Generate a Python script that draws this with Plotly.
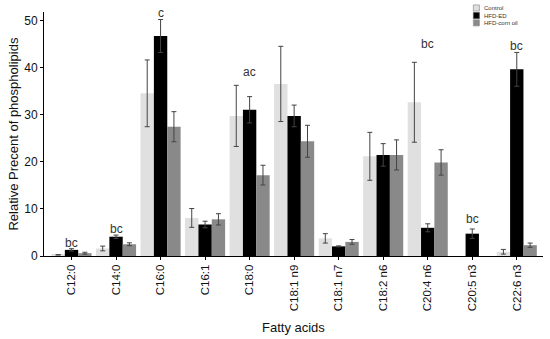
import plotly.graph_objects as go

categories = ["C12:0", "C14:0", "C16:0", "C16:1", "C18:0", "C18:1 n9",
              "C18:1 n7", "C18:2 n6", "C20:4 n6", "C20:5 n3", "C22:6 n3"]

control = [0.25, 1.6, 34.6, 8.1, 29.8, 36.6, 3.75, 21.2, 32.7, None, 0.9]
control_err = [0.05, 0.5, 7.1, 2.0, 6.5, 8.0, 1.0, 5.1, 8.5, None, 0.5]

hfd_ed = [1.3, 4.1, 46.8, 6.7, 31.1, 29.8, 2.05, 21.5, 6.0, 4.75, 39.7]
hfd_ed_err = [0.25, 0.35, 3.5, 0.7, 2.8, 2.3, 0.1, 2.4, 0.85, 1.0, 3.6]

hfd_corn = [0.6, 2.5, 27.5, 7.8, 17.2, 24.4, 3.0, 21.5, 19.9, None, 2.3]
hfd_corn_err = [0.2, 0.3, 3.2, 1.2, 2.1, 3.4, 0.5, 3.2, 2.7, None, 0.45]

sig_labels = ["bc", "bc", "c", "", "ac", "", "", "", "bc", "bc", "bc"]
sig_y = [2.85, 5.8, 51.6, None, 39.1, None, None, None, 45.1, 7.95, 44.6]

series_names = ["Control", "HFD-ED", "HFD-corn oil"]
colors = ["#e0e0e0", "#000000", "#898989"]

FONT = "Liberation Sans, Arial, sans-serif"
TXT = "#111111"

fig = go.Figure()
for name, vals, errs, col in zip(series_names, [control, hfd_ed, hfd_corn],
                                 [control_err, hfd_ed_err, hfd_corn_err], colors):
    fig.add_trace(go.Bar(
        name=name, x=categories, y=vals, marker=dict(color=col, line=dict(width=0)),
        error_y=dict(type="data", array=errs, visible=True, color="#444444",
                     thickness=1, width=2.5),
        showlegend=False,
    ))

for cat, lab, yy in zip(categories, sig_labels, sig_y):
    if lab:
        fig.add_annotation(x=cat, y=yy, text=lab, showarrow=False, xref="x", yref="y",
                           font=dict(family=FONT, size=12, color="#333333"),
                           yanchor="middle")

# manual compact legend (plot area: x 44..543 px, y 12..256 px)
leg_x0, leg_x1 = 0.8605, 0.8725
leg_tops = [1.029, 0.998, 0.968]
leg_border = ["#999999", "#555555", "#999999"]
for name, col, top, bc in zip(series_names, colors, leg_tops, leg_border):
    fig.add_shape(type="rect", xref="paper", yref="paper", x0=leg_x0, x1=leg_x1,
                  y0=top - 0.025, y1=top, fillcolor=col, line=dict(color=bc, width=0.8))
    fig.add_annotation(xref="paper", yref="paper", x=leg_x1 + 0.005, y=top - 0.0125,
                       text=name, showarrow=False, xanchor="left", yanchor="middle",
                       font=dict(family=FONT, size=6, color="#333333"))

# axis titles
fig.add_annotation(xref="paper", yref="paper", x=0.5, y=-0.295, text="Fatty acids",
                   showarrow=False, xanchor="center", yanchor="middle",
                   font=dict(family=FONT, size=13, color=TXT))
fig.add_annotation(xref="paper", yref="paper", x=-0.063, y=0.5,
                   text="Relative Precent of phospholipids", textangle=-90,
                   showarrow=False, xanchor="center", yanchor="middle",
                   font=dict(family=FONT, size=13, color=TXT))

fig.update_layout(
    template="none",
    width=550, height=339,
    margin=dict(l=44, r=7, t=12, b=83, autoexpand=False),
    paper_bgcolor="white", plot_bgcolor="white",
    barmode="group", bargap=0.1, bargroupgap=0,
    font=dict(family=FONT, color=TXT),
)
fig.update_xaxes(
    automargin=False,
    range=[-0.618, 10.589], tickangle=-90, showline=True, linecolor="black", linewidth=1,
    ticks="outside", ticklen=3, tickcolor="black", tickfont=dict(size=11.5, color=TXT),
    showgrid=False, zeroline=False,
)
fig.update_yaxes(
    automargin=False,
    range=[0, 51.9], tickvals=[0, 10, 20, 30, 40, 50], showline=True, linecolor="black",
    linewidth=1, ticks="outside", ticklen=3, tickcolor="black",
    tickfont=dict(size=12, color=TXT),
    showgrid=False, zeroline=False,
)

fig.write_html("out.html", config={"displayModeBar": False},
               post_script="document.body.style.margin='0';document.body.style.overflow='hidden';")
